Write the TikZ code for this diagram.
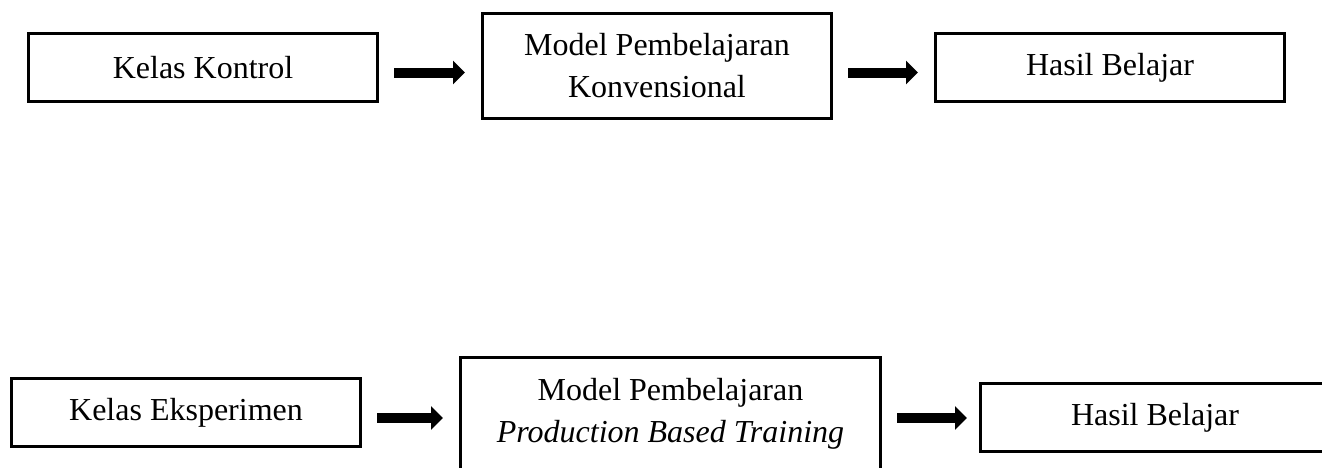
\documentclass[tikz,border=0pt]{standalone}
\usepackage{fontspec}
\setmainfont{Liberation Serif}
\usepackage{tikz}
\usetikzlibrary{arrows.meta,positioning}
\tikzstyle{arrow} = [line width=10pt,-{Triangle[length=12pt,width=23pt]},shorten <=15pt,shorten >=16pt]

\begin{document}
\begin{tikzpicture}[
    x=1pt, y=-1pt,
    every node/.style={font=\fontsize{32}{42}\selectfont},
    box/.style={rectangle, draw, line width=3pt, inner sep=0pt, minimum width=349pt, minimum height=68pt, align=center},
    tallbox/.style={box, minimum height=105pt}
]
\useasboundingbox (0,0) rectangle (1322,467);

% Control class (top row)
\node[box] (kontrol) at (203,67.5) {Kelas Kontrol};
\node[tallbox] (konv) at (657,66) {Model Pembelajaran\\Konvensional};
\node[box] (hasil1) at (1110,67.5) {Hasil Belajar};

% Experiment class (bottom row)
\node[box] (eksp) at (186,412.5) {Kelas Eksperimen};
\node[tallbox, minimum width=420pt, minimum height=113pt] (pbt) at (670.5,413.5) {Model Pembelajaran\\\textit{Production Based Training}};
\node[box] (hasil2) at (1155,417.5) {Hasil Belajar};

% Arrows
\draw[arrow] ([yshift=-5pt]kontrol.east) -- ([yshift=-5pt]kontrol.east -| konv.west);
\draw[arrow] ([yshift=-5pt]kontrol.east -| konv.east) -- ([yshift=-5pt]kontrol.east -| hasil1.west);
\draw[arrow] ([yshift=-5.5pt]eksp.east) -- ([yshift=-5.5pt]eksp.east -| pbt.west);
\draw[arrow, shorten >=12pt] ([yshift=-5.5pt]eksp.east -| pbt.east) -- ([yshift=-5.5pt]eksp.east -| hasil2.west);

\end{tikzpicture}
\end{document}
